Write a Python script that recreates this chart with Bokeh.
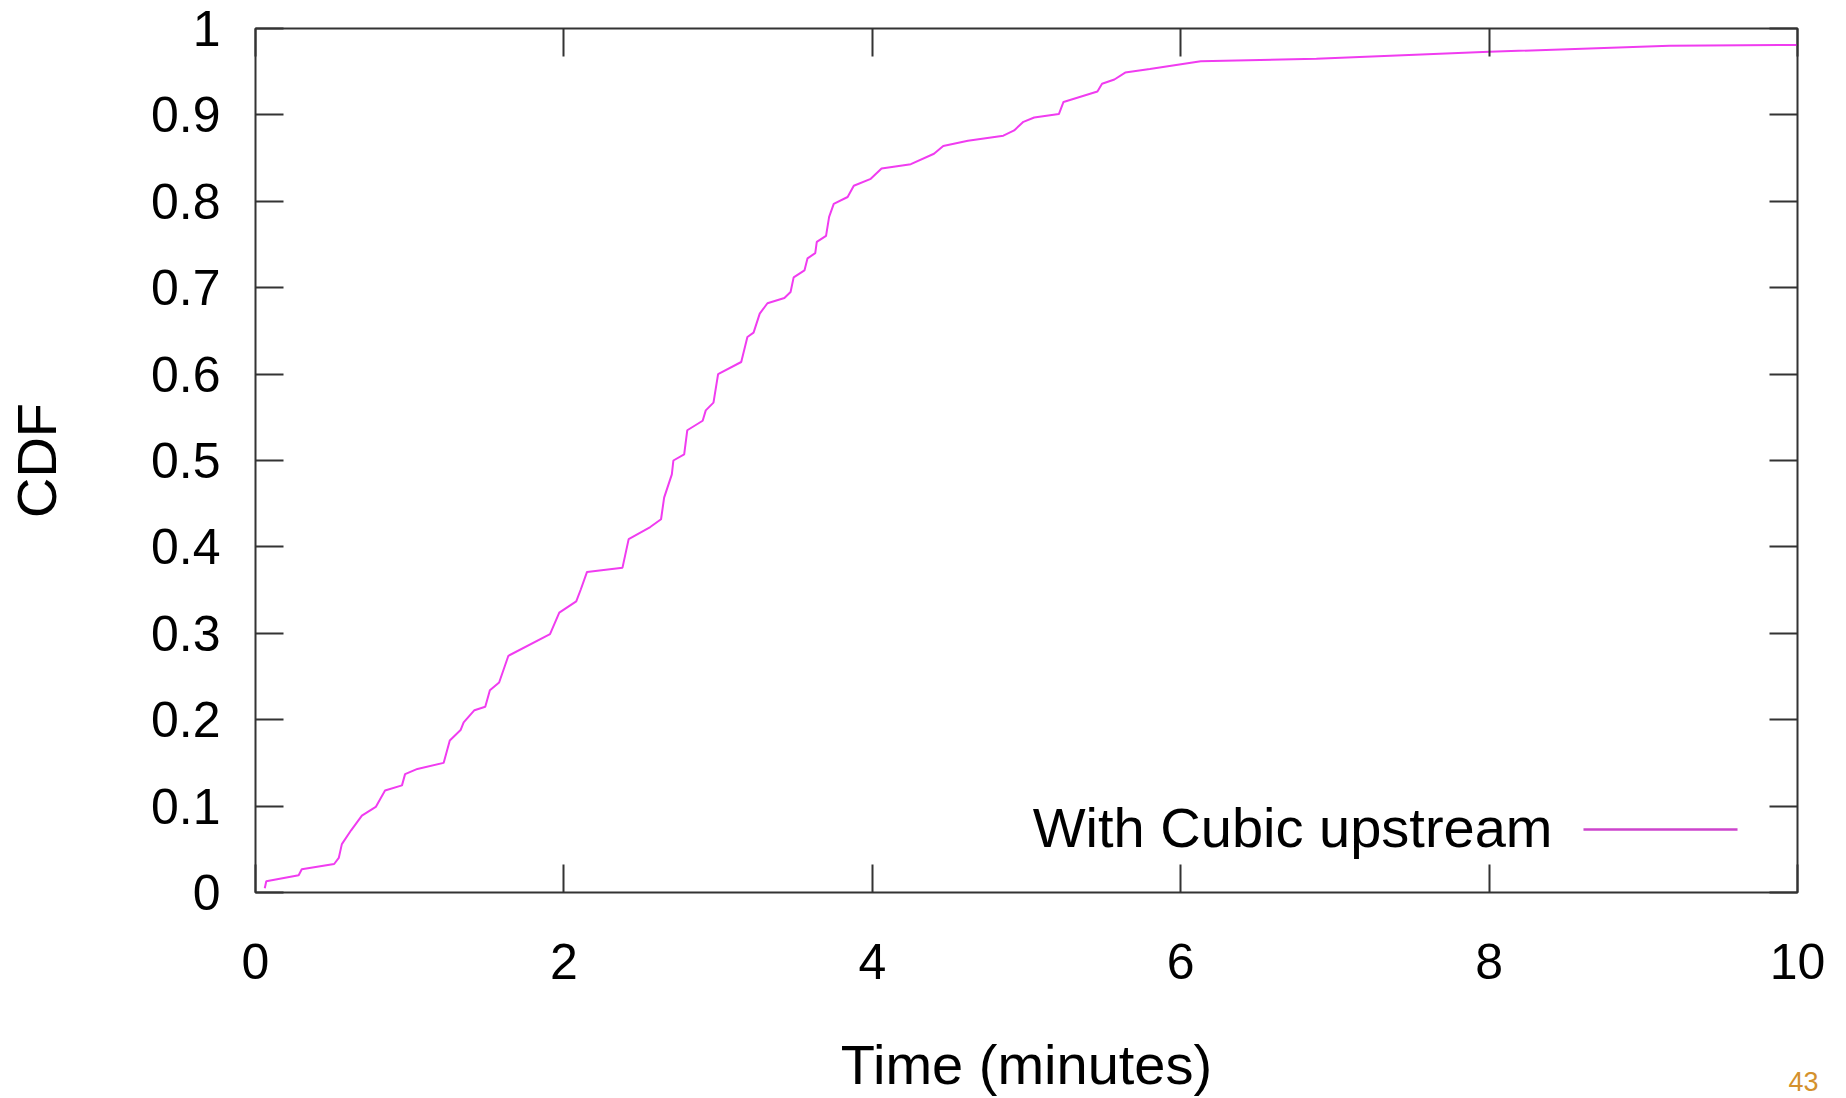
from bokeh.plotting import figure
from bokeh.models import Range1d, FixedTicker, LinearAxis, Label, Title, ColumnDataSource
from bokeh.embed import file_html
from bokeh.resources import INLINE

# ---- data ----
time_min = [0.06, 0.07, 0.28, 0.30, 0.51, 0.54, 0.56, 0.62, 0.69, 0.78, 0.84, 0.95, 0.97, 1.05,
            1.22, 1.26, 1.33, 1.35, 1.42, 1.49, 1.52, 1.58, 1.64, 1.91, 1.97, 2.08, 2.11, 2.15,
            2.38, 2.42, 2.56, 2.63, 2.65, 2.70, 2.71, 2.78, 2.80, 2.90, 2.92, 2.97, 3.00, 3.15,
            3.19, 3.23, 3.27, 3.32, 3.43, 3.47, 3.49, 3.56, 3.58, 3.63, 3.64, 3.70, 3.72, 3.75,
            3.84, 3.88, 3.99, 4.06, 4.25, 4.40, 4.46, 4.62, 4.85, 4.92, 4.98, 5.05, 5.21, 5.24,
            5.46, 5.49, 5.57, 5.64, 5.80, 6.13, 6.88, 8.00, 9.17, 10.0]
cdf = [0.005, 0.013, 0.020, 0.027, 0.033, 0.040, 0.056, 0.072, 0.089, 0.099, 0.118, 0.124, 0.137, 0.143,
       0.150, 0.176, 0.188, 0.197, 0.211, 0.215, 0.234, 0.243, 0.274, 0.299, 0.324, 0.337, 0.351, 0.371,
       0.376, 0.409, 0.423, 0.432, 0.457, 0.484, 0.500, 0.507, 0.535, 0.546, 0.558, 0.567, 0.600, 0.614,
       0.643, 0.648, 0.670, 0.682, 0.688, 0.695, 0.712, 0.720, 0.734, 0.740, 0.753, 0.760, 0.782, 0.797,
       0.805, 0.818, 0.826, 0.838, 0.843, 0.855, 0.864, 0.870, 0.876, 0.882, 0.892, 0.897, 0.901, 0.915,
       0.927, 0.936, 0.941, 0.949, 0.953, 0.962, 0.965, 0.973, 0.980, 0.981]

x_ticks = [0, 2, 4, 6, 8, 10]
x_tick_labels = ["0", "2", "4", "6", "8", "10"]
y_ticks = [0.0, 0.1, 0.2, 0.3, 0.4, 0.5, 0.6, 0.7, 0.8, 0.9, 1.0]
y_tick_labels = ["0", "0.1", "0.2", "0.3", "0.4", "0.5", "0.6", "0.7", "0.8", "0.9", "1"]

series_name = "With Cubic upstream"
x_title = "Time (minutes)"
y_title = "CDF"
page_number = "43"

FONT = "Liberation Sans"
EDGE = "#333333"
CURVE = "#f03cf0"

p = figure(width=1846, height=1098, output_backend="svg", toolbar_location=None,
           x_range=Range1d(0, 10), y_range=Range1d(0, 1),
           min_border_left=255, min_border_right=49, min_border_top=28, min_border_bottom=206)
p.background_fill_color = "white"
p.border_fill_color = "white"
p.outline_line_color = EDGE
p.outline_line_width = 2
p.xgrid.visible = False
p.ygrid.visible = False

def style_axis(ax, ticks, labels, show_labels):
    ax.ticker = FixedTicker(ticks=ticks)
    ax.axis_line_color = None
    ax.major_tick_in = 28
    ax.major_tick_out = 0
    ax.major_tick_line_color = EDGE
    ax.major_tick_line_width = 2
    ax.minor_tick_line_color = None
    if show_labels:
        ax.major_label_overrides = {t: l for t, l in zip(ticks, labels)}
        ax.major_label_text_font = FONT
        ax.major_label_text_font_size = "50px"
        ax.major_label_text_color = "black"
    else:
        # mirrored gnuplot ticks: no labels drawn on the top/right edges
        ax.major_label_text_font_size = "1px"
        ax.major_label_text_color = None
        ax.major_label_standoff = 0

xa = p.xaxis[0]
style_axis(xa, x_ticks, x_tick_labels, True)
xa.major_label_standoff = 51
xa.axis_label = x_title
xa.axis_label_text_font = FONT
xa.axis_label_text_font_size = "56px"
xa.axis_label_text_font_style = "normal"
xa.axis_label_text_color = "black"
xa.axis_label_standoff = 51

ya = p.yaxis[0]
style_axis(ya, y_ticks, y_tick_labels, True)
ya.major_label_standoff = 35
ya.axis_label = y_title
ya.axis_label_text_font = FONT
ya.axis_label_text_font_size = "56px"
ya.axis_label_text_font_style = "normal"
ya.axis_label_text_color = "black"
ya.axis_label_standoff = 80

top_ax = LinearAxis()
style_axis(top_ax, x_ticks, x_tick_labels, False)
p.add_layout(top_ax, "above")
right_ax = LinearAxis()
style_axis(right_ax, y_ticks, y_tick_labels, False)
p.add_layout(right_ax, "right")

src = ColumnDataSource(data=dict(t=time_min, c=cdf))
p.line("t", "c", source=src, line_color=CURVE, line_width=2)

# legend (gnuplot style: text then sample line on the right)
legend_key = ColumnDataSource(data=dict(x=[8.612, 9.611], y=[0.0729, 0.0729]))
p.line("x", "y", source=legend_key, line_color="#cc44cc", line_width=2.5)
p.add_layout(Label(x=8.411, y=0.0752, text=series_name, text_align="right",
                   text_baseline="middle", text_font=FONT, text_font_size="56px",
                   text_color="black"))

# page number at the bottom right corner of the page (a zero-height panel below the axis)
p.add_layout(Title(text=page_number, align="right", vertical_align="top", standoff=-54,
                   offset=-21, text_font=FONT, text_font_size="27px",
                   text_font_style="normal", text_color="#d4912d"), "below")

open("out.html", "w").write(file_html(p, INLINE))
